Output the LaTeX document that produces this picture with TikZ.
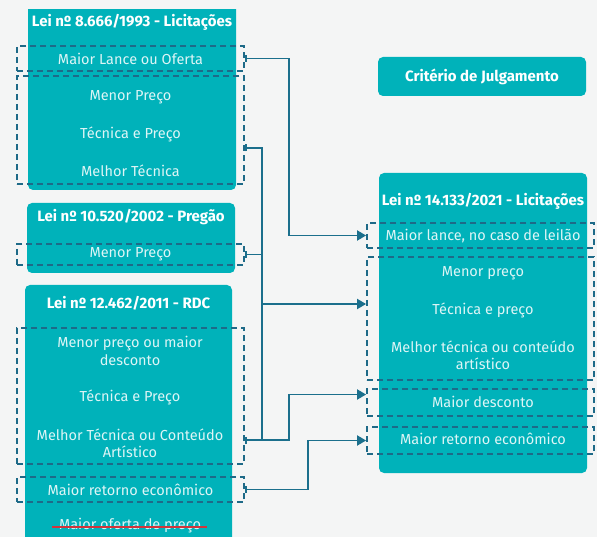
\documentclass[tikz,border=0pt]{standalone}
\usepackage{fontspec}
\setmainfont{Fira Sans}
\usetikzlibrary{arrows.meta,calc}

\definecolor{bg}{HTML}{F4F5F5}
\definecolor{boxteal}{HTML}{00B2BA}
\definecolor{itemtxt}{HTML}{DDF5F6}
\definecolor{dashcol}{HTML}{1E6A88}
\definecolor{linkcol}{HTML}{1B6F8C}
\definecolor{strikered}{RGB}{208,53,59}

\tikzset{
  lawbox/.style={fill=boxteal, rounded corners=5pt},
  title/.style={text=white, font=\fontsize{15}{17}\selectfont\bfseries, inner sep=0pt},
  item/.style={text=itemtxt, font=\fontsize{14.5}{17.5}\selectfont, inner sep=0pt, align=center},
  dbox/.style={draw=dashcol, line width=1.8pt, dash pattern=on 6pt off 4pt,
               minimum width=227pt, inner sep=0pt},
  conn/.style={draw=linkcol, line width=1.8pt},
  tail/.style={{Bar[width=7pt,line width=1.8pt]}-},
  tailarrow/.style={{Bar[width=7pt,line width=1.8pt]}-{Triangle[length=9pt,width=10pt]}},
  arrowonly/.style={-{Triangle[length=9pt,width=10pt]}},
  struck/.style={draw=strikered, line width=1.3pt},
}

\begin{document}
\begin{tikzpicture}[x=1pt,y=-1pt]
  \clip (0,0) rectangle (597,537);
  \fill[bg] (0,0) rectangle (597,537);

  % ---- Lei 8.666/1993 ----
  \begin{scope}
    \clip (0,10) rectangle (597,537);
    \fill[lawbox] (28,0) rectangle (236,190);
  \end{scope}
  \node[title] (t1) at (132,22) {Lei nº 8.666/1993 - Licitações};
  \node[dbox, minimum height=25pt] (a1) at (130.5,58.5) {};
  \node[item] (a1t) at (a1) {Maior Lance ou Oferta};
  \node[dbox, minimum height=108pt] (a2) at (130.5,130) {};
  \node[item] (a2t1) at (130.5,97) {Menor Preço};
  \node[item] (a2t2) at (130.5,134) {Técnica e Preço};
  \node[item] (a2t3) at (130.5,171) {Melhor Técnica};

  % ---- Lei 10.520/2002 ----
  \fill[lawbox] (27,203) rectangle (235,273);
  \node[title] (t2) at (131,217) {Lei nº 10.520/2002 - Pregão};
  \node[dbox, minimum height=21pt] (a3) at (130.5,254.5) {};
  \node[item] (a3t) at (a3) {Menor Preço};

  % ---- Lei 12.462/2011 ----
  \fill[lawbox] (25,285) rectangle (232,560);
  \node[title] (t3) at (128.5,303) {Lei nº 12.462/2011 - RDC};
  \node[dbox, minimum height=136pt] (a4) at (130.5,396) {};
  \node[item] (a4t1) at (130,351) {Menor preço ou maior\\desconto};
  \node[item] (a4t2) at (130,397) {Técnica e Preço};
  \node[item] (a4t3) at (130,443.5) {Melhor Técnica ou Conteúdo\\Artístico};
  \node[dbox, minimum height=25pt] (a5) at (130.5,489.5) {};
  \node[item] (a5t) at (a5) {Maior retorno econômico};
  \node[item] (a6t) at (130,526) {Maior oferta de preço};
  \path[struck] (52,527) -- (207,527);

  % ---- header ----
  \fill[lawbox] (378,57) rectangle (586,96);
  \node[title] (hd) at (482,77) {Critério de Julgamento};

  % ---- Lei 14.133/2021 ----
  \fill[lawbox] (379,173) rectangle (587,473);
  \node[title] (t4) at (483,201) {Lei nº 14.133/2021 - Licitações};
  \node[dbox, minimum height=25pt] (r1) at (480.5,235.5) {};
  \node[item] (r1t) at (483,236) {Maior lance, no caso de leilão};
  \node[dbox, minimum height=123pt] (r2) at (480.5,318.5) {};
  \node[item] (r2t1) at (483,273) {Menor preço};
  \node[item] (r2t2) at (483,310) {Técnica e preço};
  \node[item] (r2t3) at (483,355.5) {Melhor técnica ou conteúdo\\artístico};
  \node[dbox, minimum height=27pt] (r3) at (480.5,402.5) {};
  \node[item] (r3t) at (483,402) {Maior desconto};
  \node[dbox, minimum height=27pt] (r4) at (480.5,440.5) {};
  \node[item] (r4t) at (483,438.5) {Maior retorno econômico};

  % ---- connectors ----
  \coordinate (busTop) at (262,148);
  \coordinate (busBot) at (262,440);
  \coordinate (in2) at ($(r2.west)+(0,-14.5)$);
  \coordinate (in3) at ($(r3.west)+(0,-8)$);
  \draw[conn, tailarrow] (a1.east) -- ++(44,0) |- (r1.west);
  \draw[conn, tail] ($(a2.east)+(0,18)$) -- (busTop) -- (busBot);
  \draw[conn, tail] (a3.east) -- (a3.east -| busTop);
  \draw[conn, arrowonly] (in2 -| busTop) -- (in2);
  \draw[conn, tailarrow] ($(a4.east)+(0,44)$) -- ++(44,0) |- (in3);
  \draw[conn, tailarrow] (a5.east) -- ++(63,0) |- (r4.west);
\end{tikzpicture}
\end{document}
